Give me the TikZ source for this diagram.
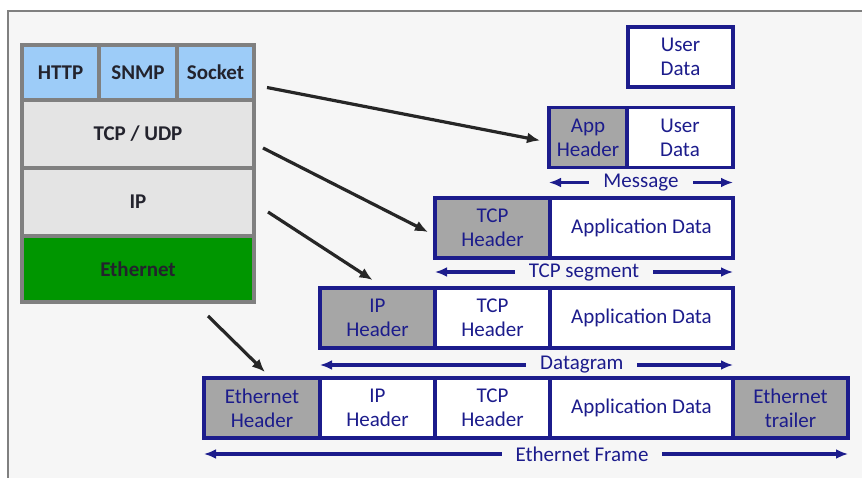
\documentclass[tikz,border=0pt]{standalone}
\usepackage{fontspec}
\setmainfont{Carlito}
\usetikzlibrary{arrows.meta, positioning}

\definecolor{navy}{RGB}{28,28,140}
\definecolor{hdrgray}{RGB}{166,166,166}
\definecolor{stackgray}{RGB}{128,128,128}
\definecolor{stackfill}{RGB}{228,228,228}
\definecolor{appblue}{RGB}{157,204,248}
\definecolor{ethgreen}{RGB}{0,150,0}
\definecolor{paper}{RGB}{246,246,246}
\definecolor{stacktext}{RGB}{35,35,45}

\begin{document}
\begin{tikzpicture}[x=1pt, y=-1pt,
    font=\fontsize{21}{24}\selectfont,
    stackcell/.style={draw=stackgray, line width=3.2pt, inner sep=0pt, outer sep=0pt, text=stacktext, font=\fontsize{21}{24}\selectfont\bfseries},
    cell/.style={draw=navy, line width=3.4pt, fill=white, text=navy, align=center, inner sep=0pt, outer sep=0pt, minimum height=60pt},
    hdrcell/.style={cell, fill=hdrgray},
    span/.style={{Latex[length=12pt,width=10pt]}-{Latex[length=12pt,width=10pt]}, line width=3.4pt, navy},
    spanlabel/.style={fill=paper, text=navy, inner xsep=14pt, inner ysep=0pt},
    pointer/.style={-{Latex[length=13pt,width=11pt]}, line width=3.2pt, black!85}]

    % Page and frame
    \useasboundingbox (0,0) rectangle (862,478);
    \fill[white] (0,0) rectangle (862,478);
    \fill[paper] (8,11) rectangle (862,478);
    \draw[stackgray, line width=2.8pt] (8,478) -- (8,11) -- (862,11);

    % Protocol stack
    \node (http) [stackcell, fill=appblue, minimum width=77pt, minimum height=55pt] at (60.5,72.5) {HTTP};
    \node (snmp) [stackcell, fill=appblue, minimum width=78pt, minimum height=55pt, right=0pt of http] {SNMP};
    \node (socket) [stackcell, fill=appblue, minimum width=77pt, minimum height=55pt, right=0pt of snmp] {Socket};
    \node (tcpudp) [stackcell, fill=stackfill, minimum width=232pt, minimum height=68pt, anchor=north west] at (http.south west) {TCP / UDP};
    \node (ip) [stackcell, fill=stackfill, minimum width=232pt, minimum height=68pt, anchor=north west] at (tcpudp.south west) {IP};
    \node (eth) [stackcell, fill=ethgreen, minimum width=232pt, minimum height=66pt, anchor=north west] at (ip.south west) {Ethernet};

    % Encapsulation rows
    \node (userdata) [cell, minimum width=105pt] at (680.5,57) {User\\Data};

    \node (apphdr) [hdrcell, minimum width=78pt] at (588,137.5) {App\\Header};
    \node (appdata) [cell, minimum width=106pt, right=0pt of apphdr] {User\\Data};

    \node (tcphdr) [hdrcell, minimum width=115pt] at (492.5,228) {TCP\\Header};
    \node (segdata) [cell, minimum width=183pt, right=0pt of tcphdr] {Application Data};

    \node (iphdr) [hdrcell, minimum width=115pt] at (377.5,318) {IP\\Header};
    \node (dgtcp) [cell, minimum width=115pt, right=0pt of iphdr] {TCP\\Header};
    \node (dgdata) [cell, minimum width=183pt, right=0pt of dgtcp] {Application Data};

    \node (ethhdr) [hdrcell, minimum width=116pt] at (262,408) {Ethernet\\Header};
    \node (frip) [cell, minimum width=115pt, right=0pt of ethhdr] {IP\\Header};
    \node (frtcp) [cell, minimum width=115pt, right=0pt of frip] {TCP\\Header};
    \node (frdata) [cell, minimum width=183pt, right=0pt of frtcp] {Application Data};
    \node (ethtrl) [hdrcell, minimum width=115pt, right=0pt of frdata] {Ethernet\\trailer};

    % Spans
    \draw[span] ([yshift=-15pt]apphdr.south west) -- node[spanlabel] {Message} ([yshift=-15pt]appdata.south east);
    \draw[span] ([yshift=-14pt]tcphdr.south west) -- node[spanlabel] {TCP segment} ([yshift=-14pt]segdata.south east);
    \draw[span] ([yshift=-17pt]iphdr.south west) -- node[spanlabel, pos=0.634] {Datagram} ([yshift=-17pt]dgdata.south east);
    \draw[span] ([yshift=-16pt]ethhdr.south west) -- node[spanlabel, pos=0.587] {Ethernet Frame} ([yshift=-16pt]ethtrl.south east);

    % Path
    \draw[pointer] ([shift={(13pt,-15pt)}]socket.east) -- ([shift={(-9pt,-3pt)}]apphdr.west);
    \draw[pointer] ([shift={(9pt,-14pt)}]tcpudp.east) -- ([shift={(-7pt,-4pt)}]tcphdr.west);
    \draw[pointer] ([shift={(14pt,-10pt)}]ip.east) -- ([shift={(-5pt,8pt)}]iphdr.north);
    \draw[pointer] ([shift={(70pt,-14pt)}]eth.south) -- ([shift={(3pt,6pt)}]ethhdr.north);
\end{tikzpicture}
\end{document}
